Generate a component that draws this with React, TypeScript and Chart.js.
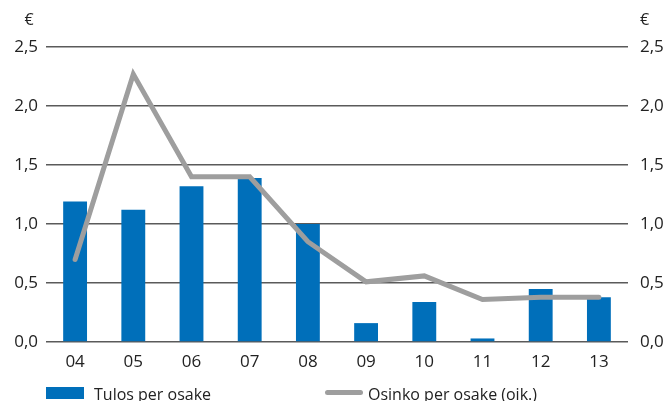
import React, { useEffect, useRef } from "react";
import { Chart, registerables } from "chart.js";

Chart.register(...registerables);

const categories = ["04", "05", "06", "07", "08", "09", "10", "11", "12", "13"];
const tulosPerOsake = [1.19, 1.12, 1.32, 1.39, 1.0, 0.16, 0.34, 0.03, 0.45, 0.38];
const osinkoPerOsake = [0.7, 2.27, 1.4, 1.4, 0.85, 0.51, 0.56, 0.36, 0.38, 0.38];
const yTicks = [0, 0.5, 1.0, 1.5, 2.0, 2.5];
const seriesLabels = ["Tulos per osake", "Osinko per osake (oik.)"];
const unitLabel = "€";

const FONT = "'Open Sans', sans-serif";
const BLUE = "#006fba";
const GREY = "#9e9e9e";
const TEXT = "#222222";
const GRID = "#5a5a5a";

const fmt = (v: number) => v.toFixed(1).replace(".", ",");

export default function App() {
  const ref = useRef<HTMLCanvasElement | null>(null);

  useEffect(() => {
    document.body.style.margin = "0";
    if (!ref.current) return;
    const euroPlugin = {
      id: "euro",
      afterDraw(chart: any) {
        const ctx = chart.ctx;
        ctx.save();
        ctx.font = `16px ${FONT}`;
        ctx.fillStyle = TEXT;
        ctx.textBaseline = "middle";
        ctx.textAlign = "center";
        ctx.fillText(unitLabel, 29, 20);
        ctx.textAlign = "left";
        ctx.fillText(unitLabel, 640, 20);
        ctx.restore();
      },
    };
    const chart = new Chart(ref.current, {
      type: "bar",
      data: {
        labels: categories,
        datasets: [
          {
            type: "line",
            label: seriesLabels[1],
            data: osinkoPerOsake,
            yAxisID: "y1",
            borderColor: GREY,
            backgroundColor: GREY,
            borderWidth: 5,
            pointRadius: 0,
            borderCapStyle: "round",
            borderJoinStyle: "miter",
            tension: 0,
            order: 0,
          } as any,
          {
            type: "bar",
            label: seriesLabels[0],
            data: tulosPerOsake,
            yAxisID: "y",
            backgroundColor: BLUE,
            borderWidth: 0,
            categoryPercentage: 0.82,
            barPercentage: 0.5,
            order: 1,
          } as any,
        ],
      },
      options: {
        animation: false,
        responsive: false,
        maintainAspectRatio: false,
        devicePixelRatio: 1,
        layout: { padding: { top: 47, bottom: 0, left: 0, right: 0 } },
        plugins: {
          legend: { display: false },
          tooltip: { enabled: false },
        },
        scales: {
          x: {
            grid: { display: false },
            border: { display: false },
            ticks: {
              color: TEXT,
              font: { family: FONT, size: 17 },
              padding: 2,
              maxRotation: 0,
            },
            afterFit(scale: any) {
              scale.height = 59;
            },
          },
          y: {
            position: "left",
            min: 0,
            max: 2.5,
            afterBuildTicks(scale: any) {
              scale.ticks = yTicks.map((v) => ({ value: v }));
            },
            grid: { color: GRID, lineWidth: 1.5, drawTicks: false },
            border: { display: false },
            ticks: {
              color: TEXT,
              font: { family: FONT, size: 17 },
              padding: 8,
              callback: (v: any) => fmt(Number(v)),
            },
            afterFit(scale: any) {
              scale.width = 46;
            },
          },
          y1: {
            position: "right",
            min: 0,
            max: 2.5,
            afterBuildTicks(scale: any) {
              scale.ticks = yTicks.map((v) => ({ value: v }));
            },
            grid: { display: false, drawTicks: false },
            border: { display: false },
            ticks: {
              color: TEXT,
              font: { family: FONT, size: 17 },
              padding: 12,
              callback: (v: any) => fmt(Number(v)),
            },
            afterFit(scale: any) {
              scale.width = 37;
            },
          },
        },
      },
      plugins: [euroPlugin],
    });
    return () => chart.destroy();
  }, []);

  return (
    <div style={{ position: "relative", width: 665, height: 401, overflow: "hidden", fontFamily: FONT }}>
      <canvas ref={ref} width={665} height={401} style={{ display: "block" }} />
      <div style={{ position: "absolute", left: 46, top: 387, width: 38, height: 12, background: BLUE }} />
      <div style={{ position: "absolute", left: 94, top: 383, fontSize: 16, lineHeight: "22px", color: TEXT, whiteSpace: "nowrap" }}>
        {seriesLabels[0]}
      </div>
      <div style={{ position: "absolute", left: 325, top: 390, width: 38, height: 5, borderRadius: 3, background: GREY }} />
      <div style={{ position: "absolute", left: 368, top: 383, fontSize: 16, lineHeight: "22px", color: TEXT, whiteSpace: "nowrap" }}>
        {seriesLabels[1]}
      </div>
    </div>
  );
}
